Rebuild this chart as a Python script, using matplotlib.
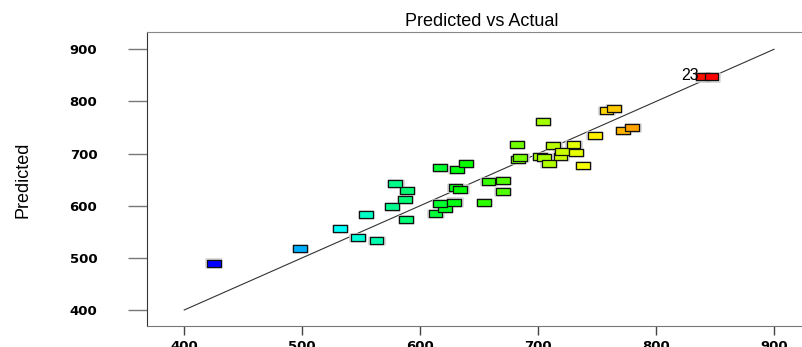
import numpy as np
import matplotlib
matplotlib.use("Agg")
import matplotlib.pyplot as plt
from matplotlib.path import Path
from matplotlib.colors import hsv_to_rgb

# actual vs predicted values
actual = [425, 498, 532, 547, 563, 554, 576, 588, 587, 589, 579,
          613, 621, 617, 629, 654, 630, 634, 617, 631, 639, 658,
          670, 670, 683, 685, 682, 704, 702, 705, 709, 713, 719,
          720, 730, 732, 738, 748, 758, 764, 772, 780, 840, 847]
predicted = [490, 518, 556, 539, 533, 583, 598, 574, 612, 629, 642,
             585, 595, 604, 607, 606, 635, 632, 673, 669, 681, 647,
             649, 627, 688, 692, 718, 761, 695, 692, 681, 716, 694,
             704, 718, 702, 677, 734, 782, 786, 744, 750, 847, 847]
ticks = [400, 500, 600, 700, 800, 900]
label_idx = 42
label_text = "23"

actual = np.array(actual)
predicted = np.array(predicted)

# rainbow colouring by actual value: blue (low) -> red (high)
frac = (actual - actual.min()) / (actual.max() - actual.min())
hsv = np.column_stack([(1 - frac) * 240 / 360, np.ones_like(frac), np.ones_like(frac)])
colors = hsv_to_rgb(hsv)

box = Path([(-1, -0.5), (1, -0.5), (1, 0.5), (-1, 0.5), (-1, -0.5)],
           [Path.MOVETO, Path.LINETO, Path.LINETO, Path.LINETO, Path.CLOSEPOLY])

fig = plt.figure(figsize=(8.03, 3.47), dpi=100)
ax = fig.add_axes([0.183, 0.0605, 0.817, 0.8473])

ax.plot([ticks[0], ticks[-1]], [ticks[0], ticks[-1]], color="#333333", lw=0.8, zorder=1)

# light grey halo behind each box, then the coloured box
ax.scatter(actual, predicted, s=110, marker=box, facecolor="none",
           edgecolor="#d0d0d0", linewidth=1.8, zorder=2)
ax.scatter(actual, predicted, s=100, marker=box, c=colors,
           edgecolor="#111111", linewidth=0.9, zorder=3)

ax.text(actual[label_idx] - 4, predicted[label_idx] + 3, label_text,
        ha="right", va="center", fontsize=11.5, family="Liberation Sans", zorder=4)

ax.set_xlim(368.4, 924.6)
ax.set_ylim(369.3, 933.2)
ax.set_xticks(ticks)
ax.set_yticks(ticks)
ax.set_xticklabels([str(t) for t in ticks], fontsize=9.5, fontweight="bold")
ax.set_yticklabels([str(t) for t in ticks], fontsize=9.5, fontweight="bold")
ax.tick_params(axis="y", length=13.7, width=1, color="#777777", pad=22)
ax.tick_params(axis="x", length=6.5, width=1, color="#444444", pad=3.4)

ax.spines["right"].set_visible(False)
ax.spines["left"].set_color("#333333")
ax.spines["top"].set_color("#888888")
ax.spines["bottom"].set_color("#777777")

fig.text(482 / 803, 1 - 21 / 347, "Predicted vs Actual", ha="center", va="center",
         fontsize=13, family="Liberation Sans")
fig.text(23 / 803, 1 - 180 / 347, "Predicted", rotation=90, ha="center", va="center",
         fontsize=13, family=["Liberation Sans Narrow", "Liberation Sans"])

fig.savefig("out.png", dpi=100)
